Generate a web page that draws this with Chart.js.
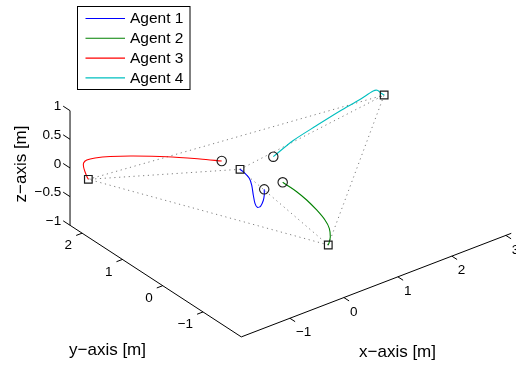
<!DOCTYPE html>
<html><head><meta charset="utf-8">
<script src="https://cdn.jsdelivr.net/npm/chart.js@4.4.1/dist/chart.umd.min.js"></script>
<style>html,body{margin:0;padding:0;background:#fff;}canvas{display:block;}</style>
</head><body>
<canvas id="c" width="516" height="366"></canvas>
<script>
// ---------------- data ----------------
const agentNames = ['Agent 1', 'Agent 2', 'Agent 3', 'Agent 4'];
const agentColors = ['rgb(0,0,255)', 'rgb(0,128,0)', 'rgb(255,0,0)', 'rgb(0,191,191)'];

const agent1X = [-0.020, -0.004, 0.000, -0.011, -0.036, -0.042, -0.036, -0.028, -0.035, -0.062, -0.095];
const agent1Y = [0.00, 0.02, 0.05, 0.10, 0.15, 0.20, 0.25, 0.30, 0.35, 0.42, 0.50];
const agent1Z = [0.001, -0.113, -0.224, -0.339, -0.375, -0.326, -0.206, -0.058, 0.039, 0.104, 0.149];

const agent2X = [0.322, 0.366, 0.432, 0.505, 0.578, 0.620, 0.603, 0.532, 0.461, 0.420];
const agent2Y = [0.00, -0.08, -0.20, -0.35, -0.50, -0.65, -0.78, -0.90, -0.97, -1.00];
const agent2Z = [0.000, -0.043, -0.112, -0.214, -0.346, -0.467, -0.546, -0.612, -0.647, -0.670];

const agent3X = [-0.434, -0.612, -0.930, -1.250, -1.494, -1.660, -1.739, -1.761, -1.761, -1.748, -1.726, -1.710];
const agent3Y = [0.50, 0.80, 1.20, 1.60, 1.85, 2.00, 2.10, 2.15, 2.15, 2.13, 2.11, 2.10];
const agent3Z = [0.416, 0.378, 0.350, 0.294, 0.260, 0.225, 0.172, 0.105, 0.035, -0.047, -0.133, -0.175];

const agent4X = [0.148, 0.630, 1.190, 1.756, 2.260, 2.633, 2.744, 2.863, 2.948];
const agent4Y = [0.00, 0.15, 0.32, 0.50, 0.68, 0.85, 0.90, 0.96, 1.00];
const agent4Z = [0.510, 0.550, 0.531, 0.497, 0.433, 0.368, 0.318, 0.195, 0.116];

const formationEdges = [[0, 1], [0, 2], [0, 3], [1, 2], [1, 3], [2, 3]];

const xLimits = [-1.9, 3.1];
const yLimits = [-1.95, 2.3];
const zLimits = [-1, 1];
const xTicks = [-1, 0, 1, 2, 3];
const yTicks = [-1, 0, 1, 2];
const zTicks = [-1, -0.5, 0, 0.5, 1];
const xLabel = 'x\u2212axis [m]';
const yLabel = 'y\u2212axis [m]';
const zLabel = 'z\u2212axis [m]';

// ---------------- view (camera) ----------------
const AZ = -37.5, EL = 30;
const ASPECT = [1.028, 1.0, 1.0];
const PX_PER_UNIT = 66.2, ORIGIN_PX = [265.3, 189.0], W = 516, H = 366;

function proj(x, y, z) {
  const a = AZ * Math.PI / 180, e = EL * Math.PI / 180;
  const xs = x * ASPECT[0], ys = y * ASPECT[1], zs = z * ASPECT[2];
  return {
    x: Math.cos(a) * xs + Math.sin(a) * ys,
    y: Math.cos(e) * zs + Math.sin(e) * (-Math.sin(a) * xs + Math.cos(a) * ys)
  };
}

const agents = [
  [agent1X, agent1Y, agent1Z],
  [agent2X, agent2Y, agent2Z],
  [agent3X, agent3Y, agent3Z],
  [agent4X, agent4Y, agent4Z]
];
const pts = a => a[0].map((v, i) => proj(v, a[1][i], a[2][i]));
const first = a => [a[0][0], a[1][0], a[2][0]];
const last = a => { const n = a[0].length - 1; return [a[0][n], a[1][n], a[2][n]]; };

const datasets = [];
// start markers (circles)
datasets.push({
  label: '_start', data: agents.map(a => proj(...first(a))), showLine: false,
  pointStyle: 'circle', pointRadius: 4.7, pointBorderColor: '#1a1a1a', pointBackgroundColor: 'rgba(0,0,0,0)',
  pointBorderWidth: 1.1, pointHoverRadius: 4.7
});
// end markers (squares)
datasets.push({
  label: '_end', data: agents.map(a => proj(...last(a))), showLine: false,
  pointStyle: 'rect', pointRadius: 5.4, pointBorderColor: '#1a1a1a', pointBackgroundColor: 'rgba(0,0,0,0)',
  pointBorderWidth: 1.2, pointHoverRadius: 5.4
});
// trajectories
agents.forEach((a, i) => datasets.push({
  label: agentNames[i], data: pts(a), showLine: true, borderColor: agentColors[i],
  borderWidth: 1.1, pointRadius: 0, tension: 0.3, fill: false
}));
// formation edges (dotted)
formationEdges.forEach(([i, j]) => datasets.push({
  label: '_edge', data: [proj(...last(agents[i])), proj(...last(agents[j]))], showLine: true,
  borderColor: 'rgba(95,95,95,0.8)', borderWidth: 1, borderDash: [1.2, 3.6], pointRadius: 0, tension: 0
}));
// axes lines
const [x0, x1] = xLimits, [y0, y1] = yLimits, [z0, z1] = zLimits;
const axisSeg = (p, q) => datasets.push({
  label: '_axis', data: [proj(...p), proj(...q)], showLine: true, borderColor: '#000',
  borderWidth: 1, pointRadius: 0, tension: 0
});
axisSeg([x0, y0, z0], [x1, y0, z0]);
axisSeg([x0, y0, z0], [x0, y1, z0]);
axisSeg([x0, y1, z0], [x0, y1, z1]);
// tick marks
xTicks.forEach(t => axisSeg([t, y0, z0], [t, y0 - 0.13, z0]));
yTicks.forEach(t => axisSeg([x0, t, z0], [x0 - 0.11, t, z0]));
zTicks.forEach(t => axisSeg([x0, y1, t], [x0, y1 + 0.17, t]));

const fmt = v => (v < 0 ? '\u2212' : '') + Math.abs(v);

const labelsPlugin = {
  id: 'labels3d',
  afterDatasetsDraw(chart) {
    const ctx = chart.ctx, sx = chart.scales.x, sy = chart.scales.y;
    const px = (x, y, z) => { const p = proj(x, y, z); return { x: sx.getPixelForValue(p.x), y: sy.getPixelForValue(p.y) }; };
    ctx.save();
    ctx.fillStyle = '#000';
    ctx.font = '13.5px "Liberation Sans", Arial, sans-serif';
    ctx.textBaseline = 'middle';
    ctx.textAlign = 'left';
    xTicks.forEach(t => { const p = px(t, y0, z0); ctx.fillText(fmt(t), p.x + 6, p.y + 14.5); });
    ctx.textAlign = 'right';
    yTicks.forEach(t => { const p = px(x0, t, z0); ctx.fillText(fmt(t), p.x - 10, p.y + 12.5); });
    zTicks.forEach(t => { const p = px(x0, y1 + 0.17, t); ctx.fillText(fmt(t), p.x - 2, p.y + 0.5); });
    // axis titles
    ctx.font = '17px "Liberation Sans", Arial, sans-serif';
    ctx.textAlign = 'center';
    ctx.fillText(xLabel, 397.5, 352);
    ctx.fillText(yLabel, 107.5, 350);
    ctx.save();
    ctx.translate(21.5, 164);
    ctx.rotate(-Math.PI / 2);
    ctx.fillText(zLabel, 0, 0);
    ctx.restore();
    // legend
    const bx = 77.5, by = 6.5, bw = 112.5, bh = 83;
    ctx.fillStyle = '#fff';
    ctx.fillRect(bx, by, bw, bh);
    ctx.strokeStyle = '#000';
    ctx.lineWidth = 1;
    ctx.strokeRect(bx, by, bw, bh);
    ctx.font = '15.5px "Liberation Sans", Arial, sans-serif';
    ctx.textAlign = 'left';
    agentNames.forEach((n, i) => {
      const yy = 18.5 + i * 19.8;
      ctx.strokeStyle = agentColors[i];
      ctx.lineWidth = 1.1;
      ctx.beginPath(); ctx.moveTo(85.5, yy); ctx.lineTo(125, yy); ctx.stroke();
      ctx.fillStyle = '#000';
      ctx.fillText(n, 130, yy + 0.5);
    });
    ctx.restore();
  }
};

new Chart(document.getElementById('c'), {
  type: 'scatter',
  data: { datasets },
  options: {
    responsive: false, animation: false, devicePixelRatio: 1,
    layout: { padding: 0, autoPadding: false },
    plugins: { legend: { display: false }, tooltip: { enabled: false } },
    scales: {
      x: { type: 'linear', display: false, min: -ORIGIN_PX[0] / PX_PER_UNIT, max: (W - ORIGIN_PX[0]) / PX_PER_UNIT },
      y: { type: 'linear', display: false, min: -(H - ORIGIN_PX[1]) / PX_PER_UNIT, max: ORIGIN_PX[1] / PX_PER_UNIT }
    }
  },
  plugins: [labelsPlugin]
});
</script>
</body></html>
